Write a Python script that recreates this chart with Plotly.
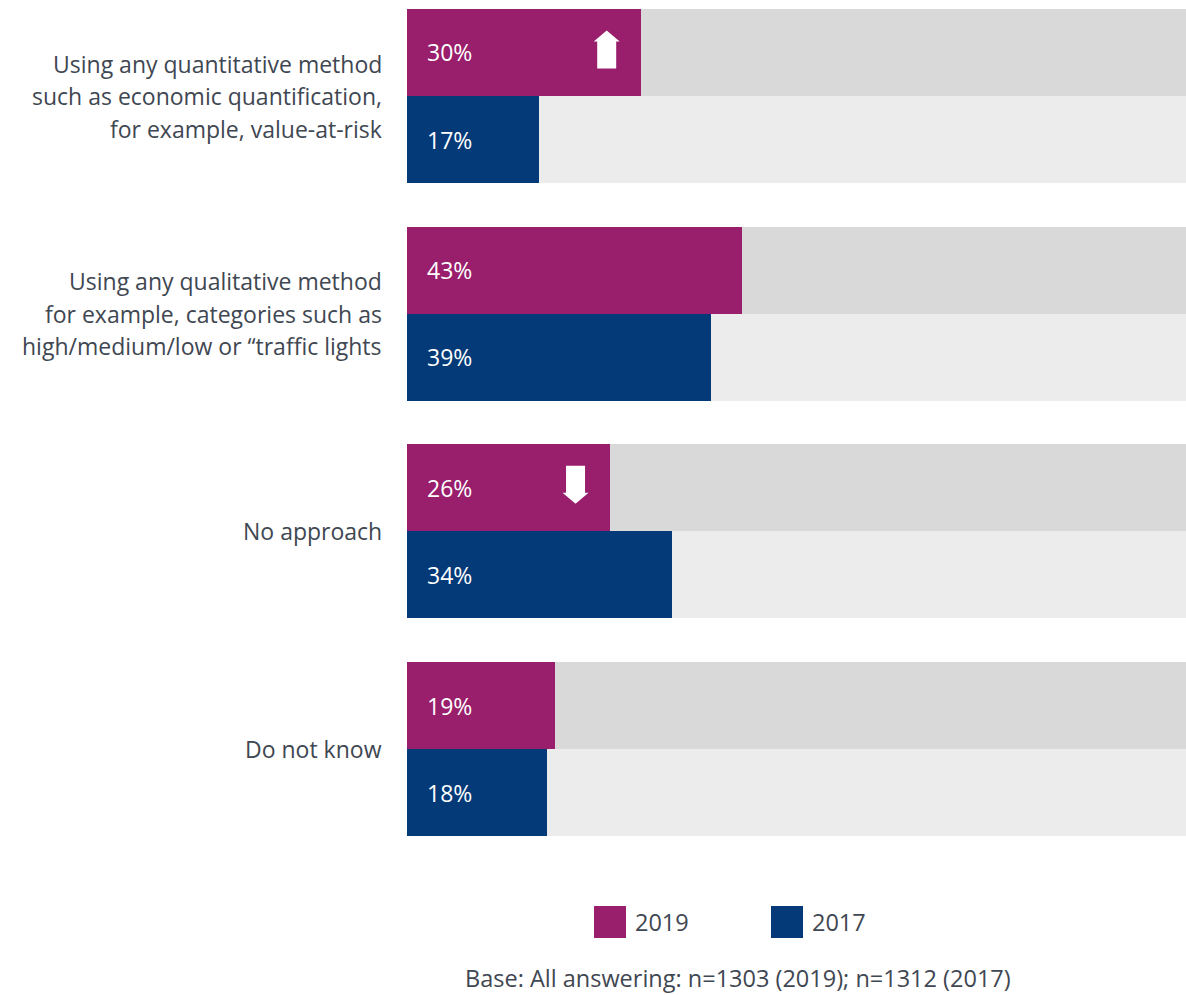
import plotly.graph_objects as go

# ---- data ----
categories = [
    ["Using any quantitative method", "such as economic quantification,", "for example, value-at-risk"],
    ["Using any qualitative method", "for example, categories such as", "high/medium/low or \u201ctraffic lights"],
    ["No approach"],
    ["Do not know"],
]
series_names = ["2019", "2017"]
values_2019 = [30, 43, 26, 19]
values_2017 = [17, 39, 34, 18]
trend_2019 = ["up", None, "down", None]
footnote = "Base: All answering: n=1303 (2019); n=1312 (2017)"

# ---- style ----
COL_2019 = "#991e6b"
COL_2017 = "#043a78"
BG_2019 = "#d9d9d9"
BG_2017 = "#ececec"
TEXT = "#3f4752"
FONT = "Open Sans"
LABEL_SIZE = 23
VALUE_SIZE = 23
NOTE_SIZE = 23.5

W, H = 1186, 995
ML, MR, MT, MB = 407, 0, 0, 125
PLOT_H = H - MT - MB
PX_X = (W - ML - MR) / 100.0          # pixels per percentage point
GROUP_PX = 217.7                      # pixels per category slot
FIRST_CENTER_PX = 96                  # centre of first category from plot top
y_top = -FIRST_CENTER_PX / GROUP_PX
y_bot = (PLOT_H - FIRST_CENTER_PX) / GROUP_PX

BAR_W = 0.4
pos = list(range(len(categories)))
pos_2019 = [p - BAR_W / 2 for p in pos]
pos_2017 = [p + BAR_W / 2 for p in pos]

fig = go.Figure()

# grey 100% tracks behind each bar
fig.add_trace(go.Bar(y=pos_2019, x=[100] * len(pos), orientation="h", width=BAR_W,
                     marker=dict(color=BG_2019, line=dict(width=0)),
                     showlegend=False, hoverinfo="skip"))
fig.add_trace(go.Bar(y=pos_2017, x=[100] * len(pos), orientation="h", width=BAR_W,
                     marker=dict(color=BG_2017, line=dict(width=0)),
                     showlegend=False, hoverinfo="skip"))
# data bars
fig.add_trace(go.Bar(y=pos_2019, x=values_2019, orientation="h", width=BAR_W,
                     marker=dict(color=COL_2019, line=dict(width=0)),
                     name=series_names[0], showlegend=False))
fig.add_trace(go.Bar(y=pos_2017, x=values_2017, orientation="h", width=BAR_W,
                     marker=dict(color=COL_2017, line=dict(width=0)),
                     name=series_names[1], showlegend=False))

annotations = []
shapes = []

# value labels inside the bars
for yy, vals in ((pos_2019, values_2019), (pos_2017, values_2017)):
    for y, v in zip(yy, vals):
        annotations.append(dict(x=0, y=y, xref="x", yref="y", text=f"{v}%",
                                showarrow=False, xanchor="left", yanchor="middle",
                                xshift=18, font=dict(family=FONT, size=VALUE_SIZE, color="white")))

# category labels, one annotation per line for a wider leading
LINE_PX = 32.5
for p, lines in zip(pos, categories):
    n = len(lines)
    for i, line in enumerate(lines):
        annotations.append(dict(x=0, y=p, xref="paper", yref="y", text=line,
                                showarrow=False, xanchor="right", yanchor="middle",
                                xshift=-23, yshift=((n - 1) / 2 - i) * LINE_PX,
                                font=dict(family=FONT, size=LABEL_SIZE, color=TEXT)))

# change arrows drawn near the end of the 2019 bars
def arrow_path(cx, cy, direction):
    sx = 1.0 / PX_X
    sy = 1.0 / GROUP_PX
    stem_w, head_w, head_h, total_h = 19, 26, 11, 38
    s = 1 if direction == "down" else -1   # y axis is reversed: +y goes down
    top = cy - s * total_h / 2 * sy
    neck = cy + s * (total_h / 2 - head_h) * sy
    tip = cy + s * total_h / 2 * sy
    pts = [
        (cx - stem_w / 2 * sx, top), (cx + stem_w / 2 * sx, top),
        (cx + stem_w / 2 * sx, neck), (cx + head_w / 2 * sx, neck),
        (cx, tip), (cx - head_w / 2 * sx, neck),
        (cx - stem_w / 2 * sx, neck),
    ]
    return "M " + " L ".join(f"{x:.4f},{y:.4f}" for x, y in pts) + " Z"

for y, v, t in zip(pos_2019, values_2019, trend_2019):
    if t:
        cx = v - 34 / PX_X
        cy = y - 3 / GROUP_PX
        shapes.append(dict(type="path", xref="x", yref="y", path=arrow_path(cx, cy, t),
                           fillcolor="white", line=dict(width=0), layer="above"))

# legend: coloured squares with year labels
def py(px):
    return (PLOT_H - px) / PLOT_H

def pxx(px):
    return (px - ML) / (W - ML - MR)

LEG_Y = 922
for (x0, col, name) in ((594, COL_2019, series_names[0]), (771, COL_2017, series_names[1])):
    shapes.append(dict(type="rect", xref="paper", yref="paper",
                       x0=pxx(x0), x1=pxx(x0 + 32), y0=py(LEG_Y - 16), y1=py(LEG_Y + 16),
                       fillcolor=col, line=dict(width=0)))
    annotations.append(dict(x=pxx(x0 + 39), y=py(LEG_Y), xref="paper", yref="paper",
                            text=name, showarrow=False, xanchor="left", yanchor="middle",
                            font=dict(family=FONT, size=NOTE_SIZE, color=TEXT)))

annotations.append(dict(x=pxx(738), y=py(978), xref="paper", yref="paper", text=footnote,
                        showarrow=False, xanchor="center", yanchor="middle",
                        font=dict(family=FONT, size=NOTE_SIZE, color=TEXT)))

fig.update_layout(
    width=W, height=H,
    margin=dict(l=ML, r=MR, t=MT, b=MB, pad=0),
    paper_bgcolor="white", plot_bgcolor="white",
    barmode="overlay", bargap=0,
    xaxis=dict(range=[0, 100], visible=False, fixedrange=True),
    yaxis=dict(range=[y_bot, y_top], visible=False, fixedrange=True),
    annotations=annotations, shapes=shapes,
    showlegend=False,
)

fig.write_html("out.html")
